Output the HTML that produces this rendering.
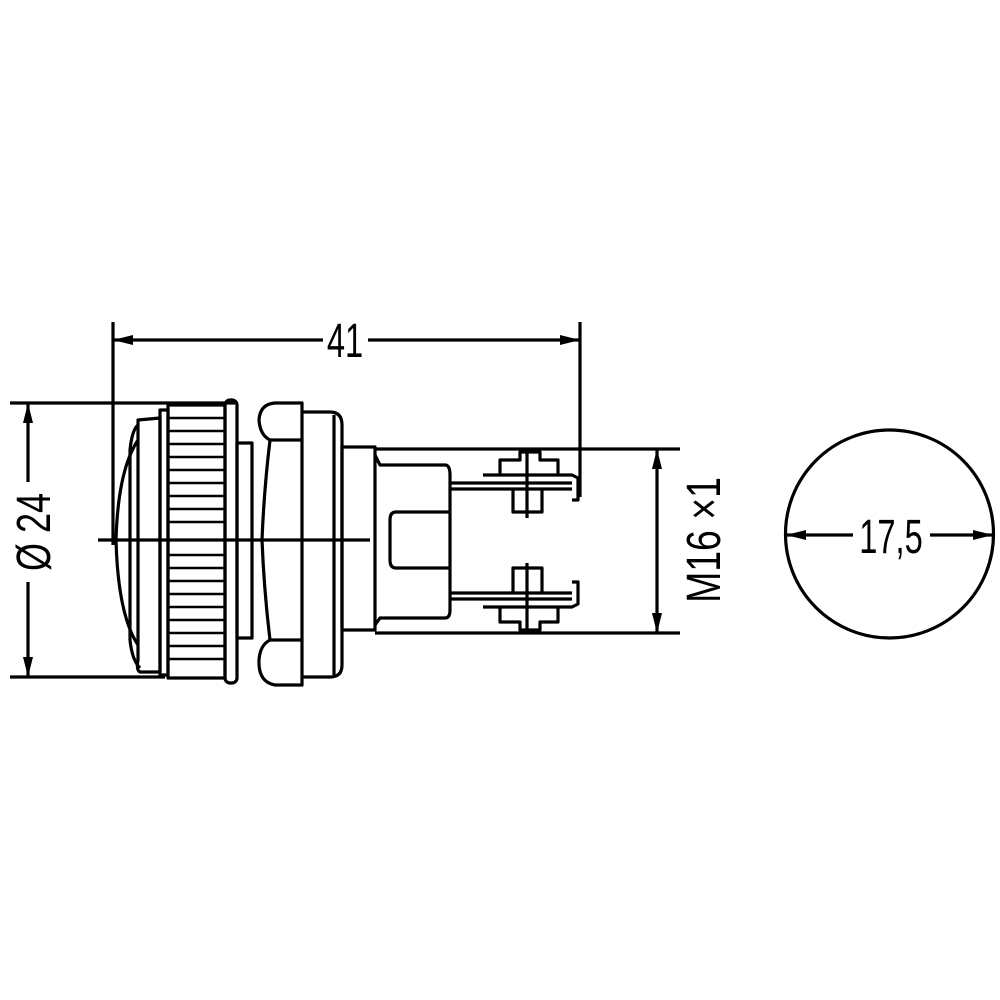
<!DOCTYPE html>
<html><head><style>html,body{margin:0;padding:0;background:#fff}svg{display:block}</style></head><body>
<svg width="1000" height="1000" viewBox="0 0 1000 1000" xmlns="http://www.w3.org/2000/svg">
<defs>
<marker id="a" markerWidth="20" markerHeight="10" refX="19" refY="5" orient="auto-start-reverse" markerUnits="userSpaceOnUse"><path d="M0,0 L20,5 L0,10 Z" fill="#000"/></marker>
</defs>
<g fill="none" stroke="#000" stroke-width="3.2" stroke-linejoin="round">
<line x1="113" y1="322" x2="113" y2="545"/>
<line x1="580" y1="322" x2="580" y2="497"/>
<line x1="114" y1="340" x2="323" y2="340" marker-start="url(#a)"/>
<line x1="368" y1="340" x2="579" y2="340" marker-end="url(#a)"/>
<line x1="10" y1="403" x2="235" y2="403"/>
<line x1="10" y1="677" x2="165" y2="677"/>
<line x1="28" y1="404" x2="28" y2="482" marker-start="url(#a)"/>
<line x1="28" y1="582" x2="28" y2="676" marker-end="url(#a)"/>
<line x1="98" y1="540" x2="370" y2="540"/>
<path d="M138,440 Q118,470 116,540 Q118,615 138,645"/>
<path d="M138,425 Q132,430 130,450 L130,640 Q132,660 140,668"/>
<path d="M138,420 L160,418 L160,672 L140,672 Q136,670 138,660 Z"/>
<rect x="160" y="410" width="8" height="265"/>
<rect x="168" y="405" width="57" height="273"/>
<rect x="225" y="400" width="12" height="283" rx="5"/>
<rect x="237" y="443" width="15" height="195"/>
<path d="M275,403 L302,403 L302,685 L275,685 Q258,682 259,660 Q260,645 270,640 Q264,590 262,540 Q264,490 270,440 Q260,435 259,420 Q260,404 275,403 Z"/>
<line x1="270" y1="440" x2="302" y2="440"/>
<line x1="270" y1="640" x2="302" y2="640"/>
<path d="M302,412 L330,412 Q342,412 342,425 L342,665 Q342,677 330,677 L302,677"/>
<line x1="334" y1="415" x2="334" y2="675"/>
<rect x="342" y="447" width="33" height="183"/>
<path d="M375,455 L380,465 L445,465 Q450,465 450,475 L450,610 Q450,618 445,618 L380,618 L375,625"/>
<path d="M450,512 L396,512 Q390,512 390,520 L390,560 Q390,568 396,568 L450,568"/>
<line x1="375" y1="449" x2="680" y2="449"/>
<line x1="375" y1="633" x2="680" y2="633"/>
<line x1="450" y1="483" x2="572" y2="483"/>
<line x1="450" y1="489" x2="572" y2="489"/>
<path d="M483,475 L572,475 L578,478 L578,500 L572,500"/>
<path d="M500,475 L500,460 L520,460 L520,452 L540,452 L540,460 L558,460 L558,475"/>
<path d="M513,489 L513,512 L542,512 L542,489"/>
<line x1="527" y1="452" x2="527" y2="518"/>
<line x1="450" y1="593" x2="572" y2="593"/>
<line x1="450" y1="599" x2="572" y2="599"/>
<path d="M483,607 L572,607 L578,604 L578,582 L572,582"/>
<path d="M500,607 L500,622 L520,622 L520,630 L540,630 L540,622 L558,622 L558,607"/>
<path d="M513,593 L513,568 L542,568 L542,593"/>
<line x1="527" y1="563" x2="527" y2="630"/>
<line x1="657" y1="450" x2="657" y2="632" marker-start="url(#a)" marker-end="url(#a)"/>
<circle cx="889.5" cy="534" r="104"/>
<line x1="787" y1="535" x2="853" y2="535" marker-start="url(#a)"/>
<line x1="930" y1="535" x2="992" y2="535" marker-end="url(#a)"/>
</g>
<g stroke="#000" stroke-width="2.6">
<path d="M168,418H225M168,431H225M168,444H225M168,457H225M168,470H225M168,483H225M168,496H225M168,509H225M168,522H225M168,555H225M168,568H225M168,581H225M168,594H225M168,607H225M168,620H225M168,633H225M168,646H225M168,659H225"/>
</g>
<g font-family="'Liberation Sans',sans-serif" font-size="48" fill="#000">
<text transform="translate(345,357) scale(0.68,1)" text-anchor="middle">41</text>
<text transform="translate(50,532) rotate(-90) scale(0.75,1)" text-anchor="middle">Ø 24</text>
<text transform="translate(720,540) rotate(-90) scale(0.78,1)" text-anchor="middle">M16 ×1</text>
<text transform="translate(891,553) scale(0.68,1)" text-anchor="middle">17,5</text>
</g>
</svg>
</body></html>
